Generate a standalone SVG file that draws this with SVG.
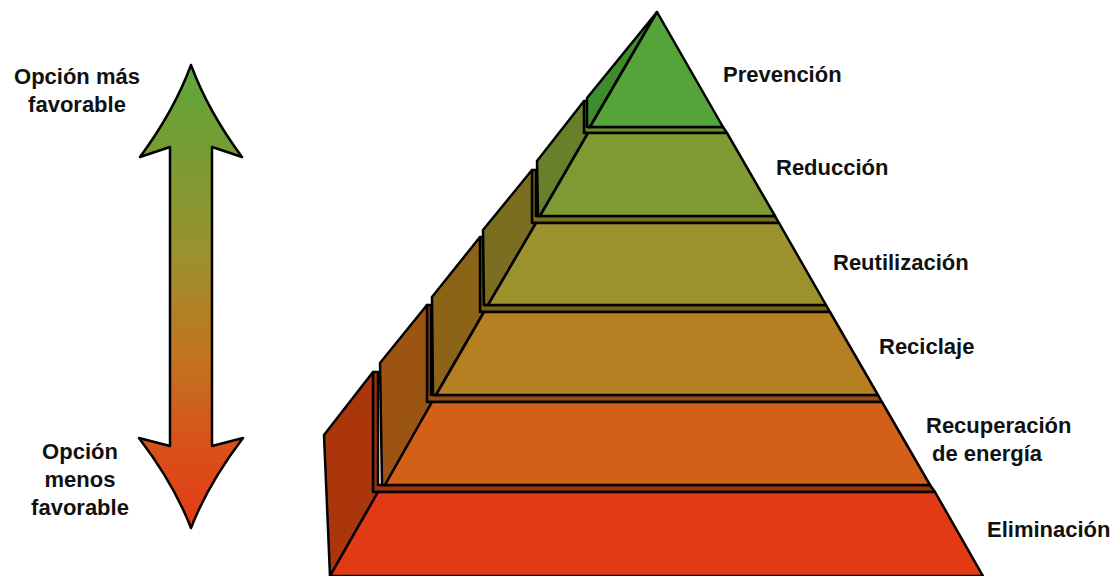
<svg xmlns="http://www.w3.org/2000/svg" width="1117" height="576" viewBox="0 0 1117 576">
<defs>
<linearGradient id="arrowGrad" gradientUnits="userSpaceOnUse" x1="0" y1="65" x2="0" y2="528">
<stop offset="0" stop-color="#5ea73b"/>
<stop offset="0.18" stop-color="#779c34"/>
<stop offset="0.40" stop-color="#9a922e"/>
<stop offset="0.62" stop-color="#c0761f"/>
<stop offset="0.83" stop-color="#d9501a"/>
<stop offset="1" stop-color="#e63a16"/>
</linearGradient>
</defs>
<style>
.s{stroke:#000;stroke-width:2.5;stroke-linejoin:round}
.t{font-family:"Liberation Sans",Arial,sans-serif;font-weight:bold;font-size:22px;fill:#111}
</style>
<rect width="1117" height="576" fill="#fff"/>
<g id="arrow">
<path class="s" fill="url(#arrowGrad)" d="M191,65 Q174,111 140,157 L170,147 L170,446 L139,438 Q174,484 191,528 Q208,484 243,438 L212,446 L212,147 L242,157 Q208,111 191,65 Z"/>
</g>
<g id="label-mas">
<text class="t" x="77" y="84" text-anchor="middle">Opción más</text>
<text class="t" x="77" y="112" text-anchor="middle">favorable</text>
</g>
<g id="label-menos">
<text class="t" x="80" y="459" text-anchor="middle">Opción</text>
<text class="t" x="80" y="487" text-anchor="middle">menos</text>
<text class="t" x="80" y="515" text-anchor="middle">favorable</text>
</g>
<g id="tier-eliminacion">
<polygon class="s" fill="#a0300e" points="373,372 378,372 378,485 930,485 935,492 373,492"/>
<polygon class="s" fill="#ab360c" points="330,576 324,435 373,372 373,492 378,492"/>
<polygon class="s" fill="#e23a14" points="378,492 935,492 983,576 330,576"/>
</g>
<g id="tier-recuperacion">
<polygon class="s" fill="#9a4a12" points="427,305 431,305 431,395 878,395 882,402 427,402"/>
<polygon class="s" fill="#9b5412" points="382,485 380,363 427,305 427,402 432,402 385,485"/>
<polygon class="s" fill="#d35f18" points="432,402 882,402 930,485 385,485"/>
</g>
<g id="tier-reciclaje">
<polygon class="s" fill="#7a6218" points="480,237 484,237 484,305 826,305 830,312 480,312"/>
<polygon class="s" fill="#8c6418" points="433,395 432,297 480,237 480,312 484,312 436,395"/>
<polygon class="s" fill="#b48022" points="484,312 830,312 878,395 436,395"/>
</g>
<g id="tier-reutilizacion">
<polygon class="s" fill="#77701e" points="532,170 536,170 536,216 775,216 779,223 532,223"/>
<polygon class="s" fill="#7c6e20" points="484,305 483,230 532,170 532,223 536,223 488,305"/>
<polygon class="s" fill="#9b922e" points="536,223 779,223 826,305 488,305"/>
</g>
<g id="tier-reduccion">
<polygon class="s" fill="#6e8a2c" points="584,101 588,101 588,127 723,127 727,133 584,133"/>
<polygon class="s" fill="#68802a" points="538,216 537,161 584,101 584,133 588,133 540,216"/>
<polygon class="s" fill="#809a33" points="588,133 727,133 775,216 540,216"/>
</g>
<g id="tier-prevencion">
<polygon class="s" fill="#3f8c2e" points="587,127 587,98 657,12 590,127"/>
<polygon class="s" fill="#54a43a" points="657,12 723,127 590,127"/>
</g>
<g id="labels">
<text class="t" x="723" y="82">Prevención</text>
<text class="t" x="776" y="175">Reducción</text>
<text class="t" x="833" y="270">Reutilización</text>
<text class="t" x="879" y="354">Reciclaje</text>
<text class="t" x="926" y="433">Recuperación</text>
<text class="t" x="932" y="461">de energía</text>
<text class="t" x="987" y="537">Eliminación</text>
</g>
</svg>
